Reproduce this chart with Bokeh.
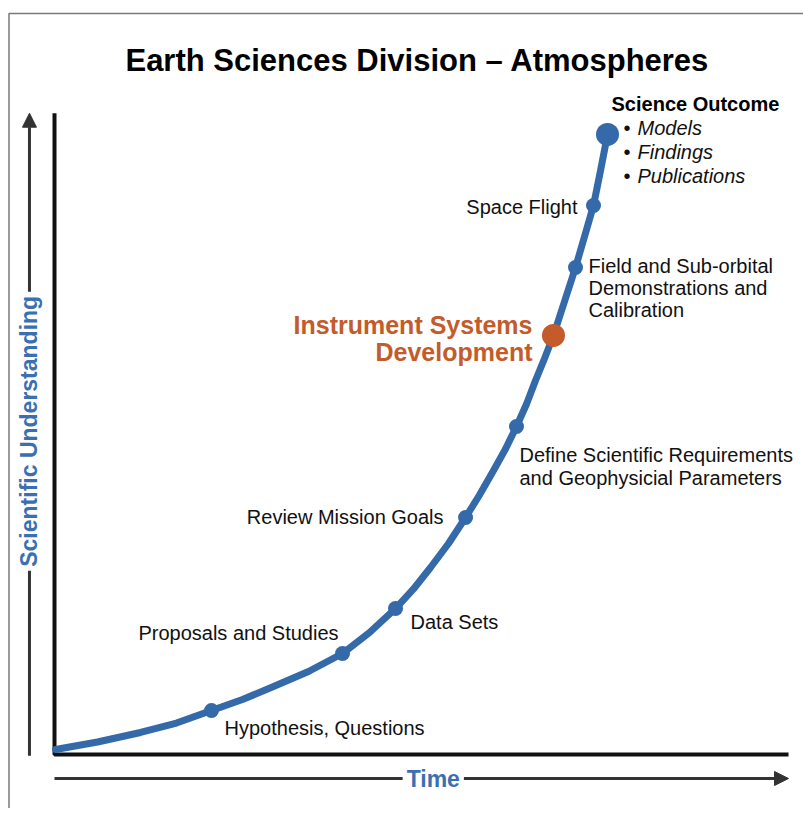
import math
from bokeh.plotting import figure
from bokeh.models import Range1d, Label, Arrow, NormalHead
from bokeh.embed import file_html
from bokeh.resources import INLINE
from bokeh.core.properties import value

# ---------------- data ----------------
# growth curve: time (% of axis) vs scientific understanding (% of axis)
curve_time = [0.14, 5.86, 11.72, 16.62, 21.39, 25.61, 29.84, 34.60, 39.24, 42.92, 46.46,
              48.91, 51.23, 53.68, 56.00, 57.90, 59.81, 61.44, 62.94, 64.31, 65.53, 66.76,
              67.98, 69.48, 70.98, 72.21, 73.43, 74.39, 75.34]
curve_understanding = [0.78, 1.95, 3.44, 4.92, 6.88, 8.59, 10.63, 12.97, 15.78, 19.06, 22.81,
                       25.86, 29.22, 32.97, 37.03, 40.55, 44.38, 47.73, 51.25, 54.77, 58.44,
                       61.88, 65.47, 70.78, 76.09, 80.94, 85.78, 91.25, 96.88]

# milestones along the curve
stage_names = [
    "Hypothesis, Questions",
    "Proposals and Studies",
    "Data Sets",
    "Review Mission Goals",
    "Define Scientific Requirements\nand Geophysicial Parameters",
    "Instrument Systems\nDevelopment",
    "Field and Sub-orbital\nDemonstrations and\nCalibration",
    "Space Flight",
    "Science Outcome",
]
stage_time = [21.39, 39.24, 46.46, 56.00, 62.94, 67.98, 70.98, 73.43, 75.34]
stage_understanding = [6.88, 15.78, 22.81, 37.03, 51.25, 65.47, 76.09, 85.78, 96.88]
outcome_items = ["Models", "Findings", "Publications"]

title_text = "Earth Sciences Division \u2013 Atmospheres"
x_title = "Time"
y_title = "Scientific Understanding"

# ---------------- styles ----------------
BLUE = "#346aa9"
AXIS_BLUE = "#3a70b2"
ORANGE = "#c45b2a"
DARK = "#333333"
FONT = "Liberation Sans"

W, H = 803, 808
p = figure(width=W, height=H, output_backend="svg", toolbar_location=None,
           x_range=Range1d(-7.357, 102.04), y_range=Range1d(-8.4375, 117.8125),
           min_border=0, background_fill_color="white", border_fill_color="white")
p.axis.visible = False
p.grid.visible = False
p.outline_line_color = None

# panel border (decoration, only top and left visible)
p.line(x=[-6.2, -6.2, 110], y=[-20, 115.78, 115.78], line_color="#7a7a7a", line_width=1.5)

# axes (thick black)
p.line(x=[0, 0, 100], y=[100.2, 0, 0], line_color="#111111", line_width=4)

# outer arrows
p.add_layout(Arrow(end=NormalHead(size=14, fill_color=DARK, line_color=DARK),
                   x_start=-3.41, y_start=-0.2, x_end=-3.41, y_end=100.2,
                   line_color=DARK, line_width=3))
p.add_layout(Arrow(end=NormalHead(size=14, fill_color=DARK, line_color=DARK),
                   x_start=0, y_start=-3.75, x_end=100, y_end=-3.75,
                   line_color=DARK, line_width=3))

p.add_layout(Label(x=51.6, y=-3.75, text=x_title, text_align="center", text_baseline="middle",
                   text_font=FONT, text_font_size="23px", text_font_style="bold",
                   text_color=AXIS_BLUE, background_fill_color="white", padding=4))
p.add_layout(Label(x=-3.41, y=50.5, text=y_title, angle=math.pi / 2, text_align="center",
                   text_baseline="middle", text_font=FONT, text_font_size="23px",
                   text_font_style="bold", text_color=AXIS_BLUE,
                   background_fill_color="white", padding=4))

# title
p.add_layout(Label(x=49.45, y=108.44, text=title_text, text_align="center",
                   text_baseline="middle", text_font=FONT, text_font_size="31px",
                   text_font_style="bold", text_color="#000000"))

# curve
p.line(x=curve_time, y=curve_understanding, line_color=BLUE, line_width=7,
       line_join="round", line_cap="round")

# milestone dots
small = [0, 1, 2, 3, 4, 6, 7]
p.scatter(x=[stage_time[i] for i in small], y=[stage_understanding[i] for i in small],
          size=15, fill_color=BLUE, line_color=None)
p.scatter(x=[stage_time[8]], y=[stage_understanding[8]], size=23, fill_color=BLUE, line_color=None)
p.scatter(x=[stage_time[5]], y=[stage_understanding[5]], size=23, fill_color=ORANGE, line_color=None)

# label placement: (align, dx, dy of first line centre, line gap, size, style, color)
placement = [
    ("left", 13, 18, 0, "20px", "normal", "#111111"),
    ("right", -4, -21, 0, "20px", "normal", "#111111"),
    ("left", 15, 13, 0, "20px", "normal", "#111111"),
    ("right", -22, -1, 0, "20px", "normal", "#111111"),
    ("left", 3, 28, 23, "20px", "normal", "#111111"),
    ("right", -21, -10, 27, "25px", "bold", ORANGE),
    ("left", 13, -2, 22, "20px", "normal", "#111111"),
    ("right", -16, 1.5, 0, "20px", "normal", "#111111"),
    ("left", 4, -30, 0, "20px", "bold", "#000000"),
]

for i, name in enumerate(stage_names):
    align, dx, dy, gap, size, style, color = placement[i]
    for k, line in enumerate(name.split("\n")):
        p.text(x=[stage_time[i]], y=[stage_understanding[i]], text=[line],
               x_offset=dx, y_offset=dy + k * gap, text_align=align,
               text_baseline="middle", text_font=value(FONT), text_font_size=size,
               text_font_style=style, text_color=color)

# science outcome bullet list
for k, item in enumerate(outcome_items):
    p.text(x=[stage_time[8]], y=[stage_understanding[8]], text=["\u2022"],
           x_offset=16, y_offset=-6 + k * 24, text_align="left", text_baseline="middle",
           text_font=value(FONT), text_font_size="20px", text_color="#111111")
    p.text(x=[stage_time[8]], y=[stage_understanding[8]], text=[item],
           x_offset=30, y_offset=-6 + k * 24, text_align="left", text_baseline="middle",
           text_font=value(FONT), text_font_size="20px", text_font_style="italic",
           text_color="#111111")

open("out.html", "w").write(file_html(p, INLINE))
